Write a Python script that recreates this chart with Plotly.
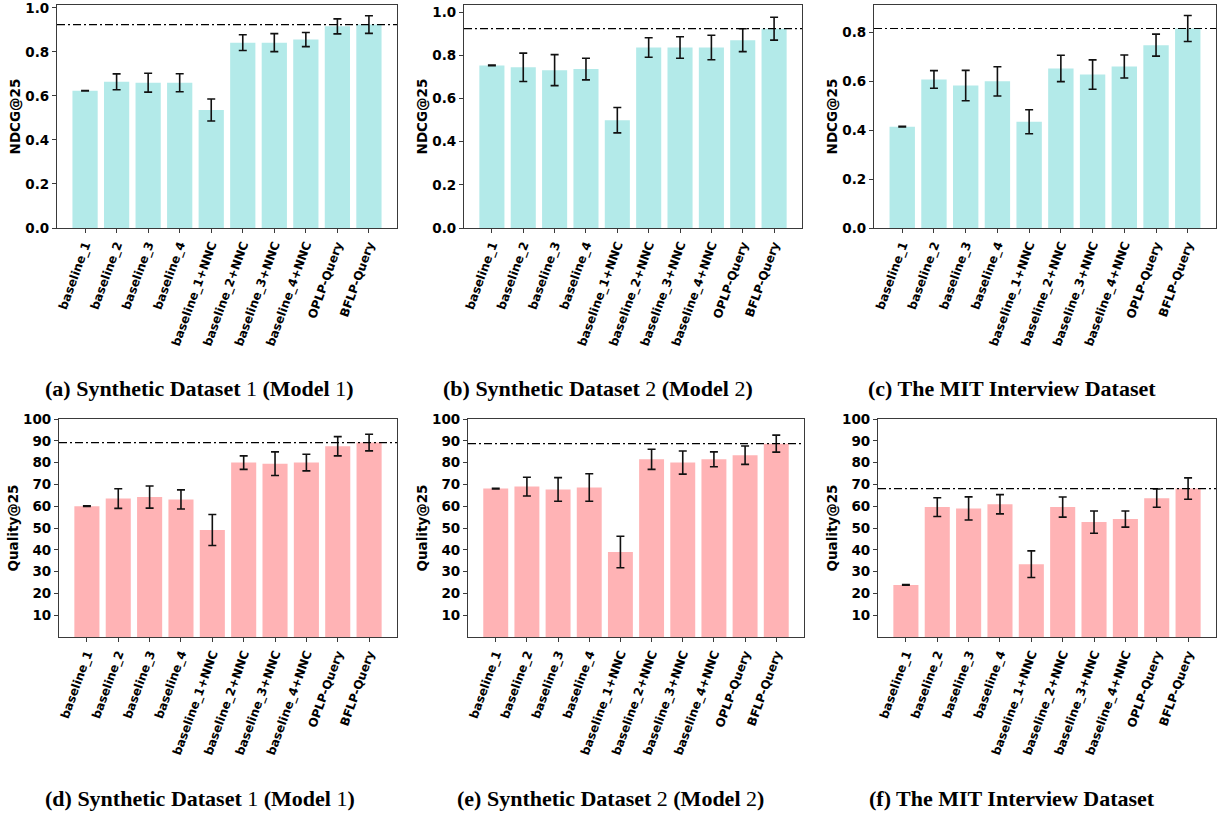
import plotly.graph_objects as go

categories = ["baseline_1", "baseline_2", "baseline_3", "baseline_4",
              "baseline_1+NNC", "baseline_2+NNC", "baseline_3+NNC",
              "baseline_4+NNC", "OPLP-Query", "BFLP-Query"]

ndcg_syn1 = [0.623, 0.664, 0.660, 0.660, 0.536, 0.842, 0.842, 0.856, 0.916, 0.924]
ndcg_syn1_err = [0.001, 0.036, 0.043, 0.041, 0.050, 0.036, 0.041, 0.032, 0.034, 0.040]
ndcg_syn2 = [0.754, 0.745, 0.732, 0.737, 0.500, 0.837, 0.837, 0.837, 0.871, 0.924]
ndcg_syn2_err = [0.001, 0.066, 0.072, 0.050, 0.059, 0.045, 0.050, 0.057, 0.053, 0.053]
ndcg_mit = [0.414, 0.607, 0.582, 0.599, 0.434, 0.652, 0.627, 0.660, 0.747, 0.815]
ndcg_mit_err = [0.001, 0.036, 0.062, 0.060, 0.049, 0.054, 0.060, 0.047, 0.045, 0.053]

qual_syn1 = [60.0, 63.5, 64.2, 63.1, 49.1, 80.0, 79.5, 80.0, 87.5, 89.2]
qual_syn1_err = [0.15, 4.5, 5.1, 4.4, 7.1, 3.1, 5.4, 3.8, 4.4, 3.8]
qual_syn2 = [68.1, 69.0, 67.7, 68.6, 39.0, 81.5, 80.0, 81.5, 83.4, 88.7]
qual_syn2_err = [0.15, 4.3, 5.4, 6.3, 7.2, 4.6, 5.3, 3.4, 4.2, 3.9]
qual_mit = [23.9, 59.6, 59.0, 60.9, 33.4, 59.6, 52.7, 54.1, 63.7, 68.1]
qual_mit_err = [0.15, 4.3, 5.3, 4.4, 6.1, 4.6, 5.1, 3.7, 4.2, 4.9]

ndcg_ticks = [0.0, 0.2, 0.4, 0.6, 0.8, 1.0]
quality_ticks = [10, 20, 30, 40, 50, 60, 70, 80, 90, 100]

captions = [
    "<b>(a) Synthetic Dataset </b>1<b> (Model </b>1<b>)</b>",
    "<b>(b) Synthetic Dataset </b>2<b> (Model </b>2<b>)</b>",
    "<b>(c) The MIT Interview Dataset</b>",
    "<b>(d) Synthetic Dataset </b>1<b> (Model </b>1<b>)</b>",
    "<b>(e) Synthetic Dataset </b>2<b> (Model </b>2<b>)</b>",
    "<b>(f) The MIT Interview Dataset</b>",
]

W, H = 1225, 816
CYAN = "rgb(179,234,233)"
PINK = "rgb(255,179,181)"

panels = [
    # values, errors, color, ylabel, px x0, x1, y_top, y_bottom, yrange, caption center x, caption y
    (ndcg_syn1, ndcg_syn1_err, CYAN, "NDCG@25", 57, 397, 5, 228, [0, 1.013], 200, 388),
    (ndcg_syn2, ndcg_syn2_err, CYAN, "NDCG@25", 464, 802, 5, 228, [0, 1.034], 598, 388),
    (ndcg_mit, ndcg_mit_err, CYAN, "NDCG@25", 874, 1216, 5, 228, [0, 0.911], 1012, 388),
    (qual_syn1, qual_syn1_err, PINK, "Quality@25", 59, 397, 419, 637, [0, 100], 200, 798),
    (qual_syn2, qual_syn2_err, PINK, "Quality@25", 468, 804, 419, 637, [0, 100], 610, 798),
    (qual_mit, qual_mit_err, PINK, "Quality@25", 878, 1216, 419, 637, [0, 100], 1012, 798),
]

def px_x(v):
    return v / W

def px_y(v):
    return 1 - v / H

fig = go.Figure()
layout = {}
shapes = []
annotations = []
frame = "#3a3a3a"
tickfont = dict(family="DejaVu Sans", size=13.5, color="black", weight="bold")

for i, (vals, errs, col, ylab, x0, x1, yt, yb, yr, cx, cy) in enumerate(panels):
    n = i + 1
    xa = "x" if n == 1 else f"x{n}"
    ya = "y" if n == 1 else f"y{n}"
    fig.add_trace(go.Bar(
        x=list(range(len(categories))), y=vals, width=0.8,
        marker=dict(color=col, line=dict(width=0)),
        error_y=dict(type="data", array=errs, color="#111111", thickness=1.6, width=4),
        xaxis=xa, yaxis=ya, showlegend=False, hoverinfo="skip",
    ))
    xkey = "xaxis" if n == 1 else f"xaxis{n}"
    ykey = "yaxis" if n == 1 else f"yaxis{n}"
    layout[xkey] = dict(
        domain=[px_x(x0), px_x(x1)], anchor=ya, automargin=False,
        range=[-0.89, 9.89], tickmode="array",
        tickvals=list(range(len(categories))), ticktext=categories,
        tickangle=-70, tickfont=dict(family="DejaVu Sans", size=12, color="black", weight="bold"),
        ticks="outside", ticklen=4, tickcolor=frame, ticklabeloverflow="allow",
        showline=True, linecolor=frame, linewidth=1.2, mirror=True,
        showgrid=False, zeroline=False,
    )
    if yr[1] == 100:
        tv = [t for t in quality_ticks if t <= yr[1]]
        tt = [str(t) for t in tv]
    else:
        tv = [t for t in ndcg_ticks if t <= yr[1]]
        tt = [f"{t:.1f}" for t in tv]
    layout[ykey] = dict(
        domain=[px_y(yb), px_y(yt)], anchor=xa, range=yr, automargin=False,
        tickmode="array", tickvals=tv, ticktext=tt,
        tickfont=tickfont, ticks="outside", ticklen=4, tickcolor=frame,
        ticklabeloverflow="allow",
        showline=True, linecolor=frame, linewidth=1.2, mirror=True,
        showgrid=False, zeroline=False,
        title=dict(text=ylab, font=dict(family="DejaVu Sans", size=13.5, color="black", weight="bold"), standoff=1),
    )
    shapes.append(dict(
        type="line", xref=f"{xa} domain", yref=ya, x0=0, x1=1,
        y0=vals[-1], y1=vals[-1],
        line=dict(color="black", width=1.2, dash="8px,3px,2px,3px"),
    ))
    annotations.append(dict(
        text=captions[i], x=px_x(cx), y=px_y(cy), xref="paper", yref="paper",
        showarrow=False, xanchor="center", yanchor="middle",
        font=dict(family="Liberation Serif", size=22, color="black"),
    ))

fig.update_layout(
    width=W, height=H, margin=dict(l=0, r=0, t=0, b=0),
    paper_bgcolor="white", plot_bgcolor="white",
    shapes=shapes, annotations=annotations, bargap=0.2,
    **layout,
)

fig.write_html("out.html", config={"displayModeBar": False},
               post_script="document.body.style.margin='0px';")
